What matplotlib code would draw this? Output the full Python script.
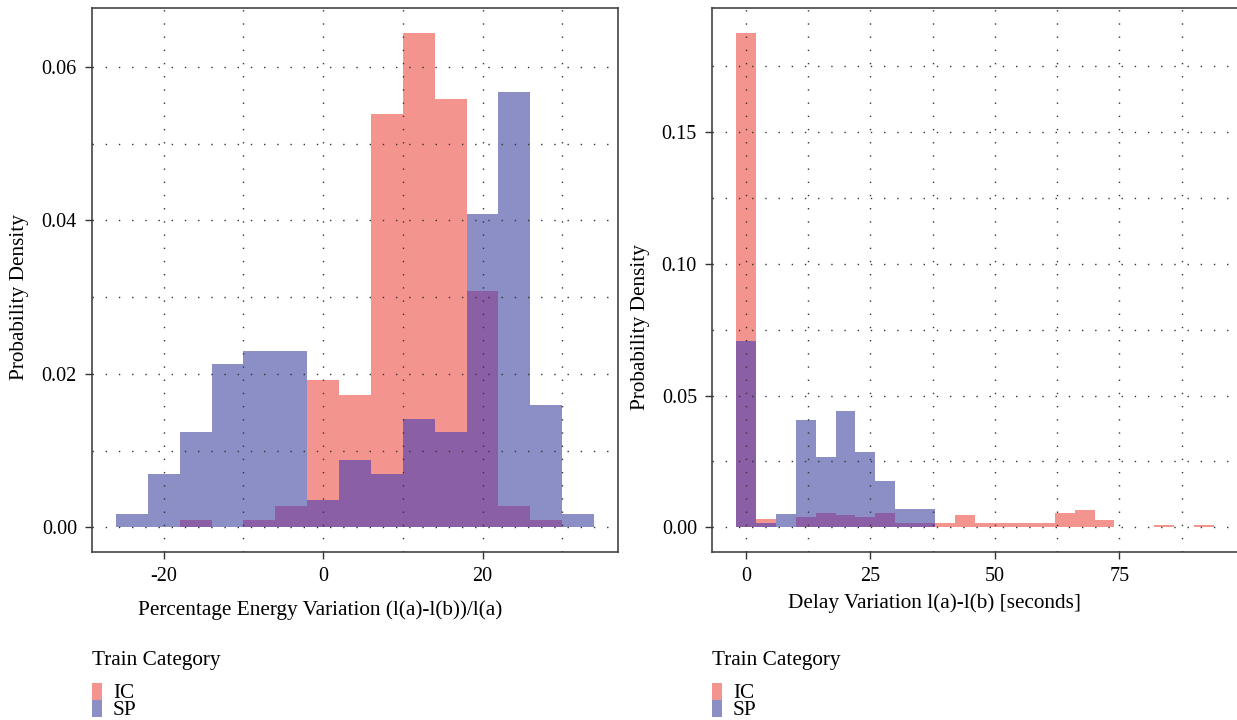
import numpy as np
import matplotlib
matplotlib.use("Agg")
import matplotlib.pyplot as plt
from matplotlib.patches import Rectangle

plt.rcParams['font.family'] = ['Liberation Serif', 'DejaVu Serif']
plt.rcParams['axes.unicode_minus'] = False

# histogram data (left bin edges, bin width 4)
energy_bins = [-26, -22, -18, -14, -10, -6, -2, 2, 6, 10, 14, 18, 22, 26, 30]
energy_ic = [0, 0, 0.0009, 0, 0.0009, 0.0028, 0.0192, 0.0173, 0.0539, 0.0645,
             0.0558, 0.0308, 0.0028, 0.0009, 0]
energy_sp = [0.0017, 0.0070, 0.0124, 0.0213, 0.0230, 0.0230, 0.0035, 0.0088,
             0.0070, 0.0141, 0.0124, 0.0408, 0.0568, 0.0160, 0.0017]

delay_bins = [-2, 2, 6, 10, 14, 18, 22, 26, 30, 34, 38, 42, 46, 50, 54, 58,
              62, 66, 70, 74, 78, 82, 86, 90]
delay_ic = [0.1877, 0.0030, 0, 0.0037, 0.0054, 0.0046, 0.0038, 0.0054, 0.0016,
            0.0016, 0.0017, 0.0046, 0.0017, 0.0017, 0.0017, 0.0017, 0.0055,
            0.0066, 0.0028, 0, 0, 0.0008, 0, 0.0008]
delay_sp = [0.0708, 0.0015, 0.0050, 0.0406, 0.0265, 0.0442, 0.0284, 0.0175,
            0.0069, 0.0069, 0, 0, 0, 0, 0, 0, 0, 0, 0, 0, 0, 0, 0, 0]

categories = ['IC', 'SP']
bin_width = 4

RED = '#F4948F'
BLUE = '#8B8FC6'
PURPLE = '#8B5FA5'
TICK = 14.5
TXT = 15.3

W, H = 1237, 720


def draw_hist(ax, bins, ic, sp):
    bins = np.array(bins, dtype=float)
    ic = np.array(ic)
    sp = np.array(sp)
    both = np.minimum(ic, sp)
    for vals, col in [(ic, RED), (sp, BLUE), (both, PURPLE)]:
        m = vals > 0
        ax.bar(bins[m], vals[m], width=bin_width, align='edge', color=col,
               linewidth=0, zorder=1)


def style(ax, xmaj, xmin, ymaj, ymin, ylabels):
    ax.set_xticks(xmaj)
    ax.set_xticks(xmin, minor=True)
    ax.set_yticks(ymaj)
    ax.set_yticks(ymin, minor=True)
    ax.set_yticklabels(ylabels)
    ax.set_axisbelow(False)
    ax.grid(which='both', color='#333333', linestyle=(0, (1, 8.5)), linewidth=1.0)
    ax.tick_params(which='major', length=5, width=1, pad=5.8, labelsize=TICK,
                   color='#333333')
    ax.tick_params(which='minor', length=0)
    for s in ax.spines.values():
        s.set_color('#444444')
        s.set_linewidth(1.2)


fig = plt.figure(figsize=(W / 100, H / 100), dpi=100)

ax1 = fig.add_axes([92 / W, 1 - 552 / H, (618 - 92) / W, 544 / H])
draw_hist(ax1, energy_bins, energy_ic, energy_sp)
ax1.set_xlim(-29, 37)
ax1.set_ylim(-0.00323, 0.0677)
style(ax1, [-20, 0, 20], [-10, 10, 30], [0, 0.02, 0.04, 0.06],
      [0.01, 0.03, 0.05], ['0.00', '0.02', '0.04', '0.06'])

ax2 = fig.add_axes([712 / W, 1 - 552 / H, (1238 - 712) / W, 544 / H])
draw_hist(ax2, delay_bins, delay_ic, delay_sp)
ax2.set_xlim(-6.8, 98.8)
ax2.set_ylim(-0.0094, 0.1971)
style(ax2, [0, 25, 50, 75], [12.5, 37.5, 62.5, 87.5], [0, 0.05, 0.10, 0.15],
      [0.025, 0.075, 0.125, 0.175], ['0.00', '0.05', '0.10', '0.15'])
ax2.spines['right'].set_visible(False)

# axis titles
fig.text(320 / W, 1 - 615 / H, 'Percentage Energy Variation (l(a)-l(b))/l(a)',
         ha='center', va='baseline', fontsize=TXT)
fig.text(934 / W, 1 - 608 / H, 'Delay Variation l(a)-l(b) [seconds]',
         ha='center', va='baseline', fontsize=TXT)
fig.text(20 / W, 1 - 297 / H, 'Probability Density', rotation=90,
         ha='center', va='center', fontsize=TXT)
fig.text(641 / W, 1 - 327 / H, 'Probability Density', rotation=90,
         ha='center', va='center', fontsize=TXT)

# legends
for lx in [92, 712]:
    fig.text(lx / W, 1 - 665 / H, 'Train Category', ha='left', va='baseline',
             fontsize=TXT)
    for i, (cat, col) in enumerate(zip(categories, [RED, BLUE])):
        top = 683 + i * 17
        fig.patches.append(Rectangle((lx / W, 1 - (top + 17) / H), 10 / W, 17 / H,
                                     transform=fig.transFigure, color=col,
                                     linewidth=0))
        fig.text((lx + 21) / W, 1 - (top + 15) / H, cat, ha='left',
                 va='baseline', fontsize=TXT)

fig.savefig('out.png', dpi=100)
